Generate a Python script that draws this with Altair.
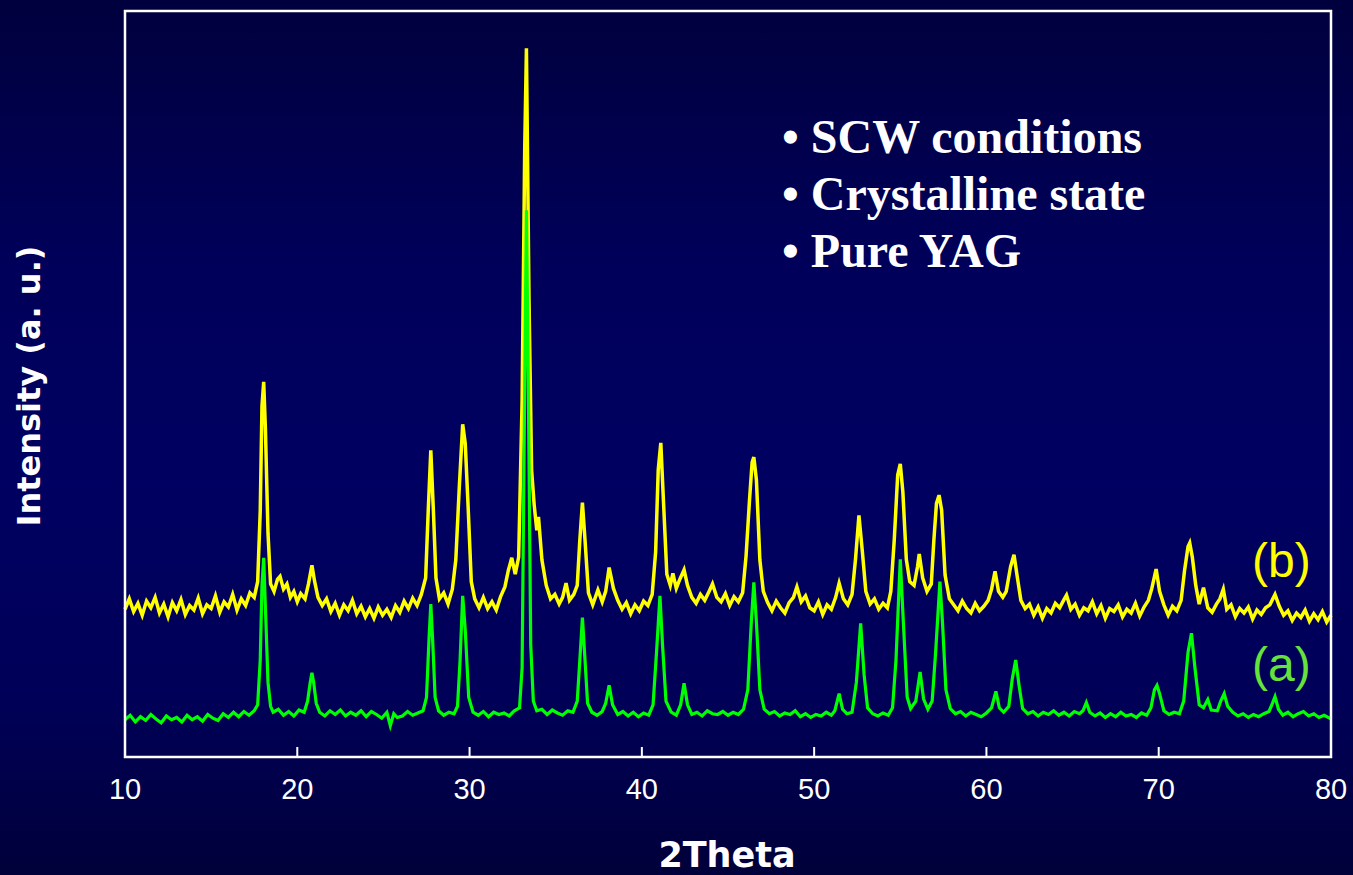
import altair as alt
import pandas as pd

# ---------------- data ----------------
# (2theta, intensity a.u.) pairs for pattern (a) - green
a_points = [
    (10.0, 50), (10.3, 56), (10.6, 47), (10.9, 54), (11.2, 49), (11.5, 57), (11.8, 51), (12.1, 46),
    (12.4, 55), (12.7, 50), (13.0, 53), (13.3, 47), (13.6, 56), (13.9, 50), (14.2, 54), (14.5, 48),
    (14.8, 57), (15.1, 52), (15.4, 49), (15.7, 58), (16.0, 53), (16.3, 60), (16.6, 54), (16.9, 61),
    (17.2, 56), (17.5, 62), (17.7, 70), (17.85, 130), (17.95, 230), (18.05, 267), (18.15, 200),
    (18.3, 100), (18.45, 68), (18.6, 60), (18.9, 64), (19.2, 56), (19.5, 61), (19.8, 55), (20.1, 63),
    (20.4, 60), (20.6, 75), (20.75, 100), (20.85, 113), (20.95, 100), (21.1, 72), (21.3, 60),
    (21.6, 55), (21.9, 62), (22.2, 57), (22.5, 63), (22.8, 55), (23.1, 60), (23.4, 56), (23.7, 62),
    (24.0, 54), (24.3, 61), (24.6, 57), (24.9, 52), (25.2, 60), (25.4, 42), (25.6, 58), (25.8, 53),
    (26.1, 55), (26.4, 61), (26.7, 56), (27.0, 59), (27.3, 62), (27.5, 80), (27.65, 160),
    (27.75, 205), (27.85, 160), (28.0, 80), (28.2, 62), (28.5, 56), (28.8, 60), (29.1, 58),
    (29.3, 68), (29.45, 130), (29.6, 216), (29.75, 170), (29.95, 80), (30.2, 60), (30.5, 56),
    (30.8, 61), (31.1, 54), (31.4, 60), (31.7, 57), (32.0, 59), (32.3, 55), (32.6, 62), (32.9, 66),
    (33.05, 120), (33.2, 500), (33.3, 733), (33.4, 520), (33.55, 150), (33.7, 75), (33.9, 62),
    (34.2, 64), (34.5, 57), (34.8, 63), (35.1, 59), (35.4, 56), (35.7, 62), (36.0, 60), (36.25, 75),
    (36.4, 130), (36.55, 187), (36.7, 130), (36.85, 72), (37.1, 60), (37.4, 56), (37.7, 61),
    (37.9, 72), (38.1, 96), (38.3, 70), (38.6, 57), (38.9, 61), (39.2, 55), (39.5, 60), (39.8, 54),
    (40.1, 59), (40.4, 56), (40.65, 70), (40.85, 140), (41.05, 216), (41.2, 150), (41.4, 75),
    (41.7, 60), (42.0, 56), (42.25, 70), (42.45, 99), (42.65, 70), (42.9, 57), (43.2, 60),
    (43.5, 55), (43.8, 62), (44.1, 58), (44.4, 57), (44.7, 61), (45.0, 56), (45.3, 60), (45.6, 57),
    (45.9, 64), (46.15, 90), (46.35, 180), (46.5, 234), (46.65, 180), (46.85, 90), (47.1, 64),
    (47.4, 58), (47.7, 61), (48.0, 55), (48.3, 59), (48.6, 57), (48.9, 62), (49.2, 54), (49.5, 58),
    (49.8, 53), (50.1, 57), (50.4, 55), (50.7, 60), (51.0, 56), (51.2, 62), (51.45, 85),
    (51.65, 64), (51.9, 58), (52.2, 60), (52.45, 100), (52.7, 179), (52.9, 110), (53.1, 66),
    (53.4, 58), (53.7, 55), (54.0, 59), (54.3, 56), (54.55, 66), (54.75, 130), (55.0, 265),
    (55.2, 170), (55.4, 80), (55.6, 65), (55.9, 75), (56.15, 114), (56.35, 78), (56.6, 64),
    (56.85, 75), (57.05, 140), (57.3, 235), (57.45, 180), (57.65, 90), (57.9, 65), (58.2, 58),
    (58.5, 61), (58.8, 55), (59.1, 60), (59.4, 57), (59.7, 54), (60.0, 59), (60.3, 66),
    (60.55, 88), (60.75, 66), (61.0, 60), (61.3, 68), (61.5, 105), (61.7, 130), (61.9, 95),
    (62.1, 65), (62.4, 58), (62.7, 61), (63.0, 55), (63.3, 60), (63.6, 57), (63.9, 62), (64.2, 56),
    (64.5, 60), (64.8, 55), (65.1, 61), (65.4, 58), (65.6, 62), (65.8, 73), (66.0, 60), (66.3, 55),
    (66.6, 59), (66.9, 53), (67.2, 58), (67.5, 54), (67.8, 60), (68.1, 55), (68.4, 57), (68.7, 53),
    (69.0, 59), (69.3, 56), (69.55, 66), (69.75, 90), (69.9, 96), (70.05, 85), (70.3, 62),
    (70.6, 57), (70.9, 60), (71.2, 58), (71.45, 75), (71.7, 140), (71.9, 166), (72.1, 120),
    (72.35, 70), (72.6, 66), (72.85, 77), (73.05, 63), (73.4, 62), (73.6, 75), (73.8, 85),
    (74.0, 68), (74.3, 60), (74.6, 55), (74.9, 58), (75.2, 53), (75.5, 57), (75.8, 54), (76.1, 58),
    (76.4, 61), (76.6, 72), (76.75, 81), (76.95, 64), (77.2, 56), (77.5, 60), (77.8, 54),
    (78.1, 58), (78.4, 61), (78.7, 55), (79.0, 58), (79.3, 53), (79.6, 56), (80.0, 51),
]

# (2theta, intensity a.u.) pairs for pattern (b) - yellow
b_points = [
    (10.0, 198), (10.25, 212), (10.5, 195), (10.75, 206), (11.0, 190), (11.25, 209), (11.5, 200),
    (11.75, 214), (12.0, 193), (12.25, 205), (12.5, 188), (12.75, 207), (13.0, 196), (13.25, 211),
    (13.5, 191), (13.75, 203), (14.0, 197), (14.25, 213), (14.5, 192), (14.75, 204), (15.0, 199),
    (15.25, 216), (15.5, 194), (15.75, 208), (16.0, 201), (16.25, 218), (16.5, 197), (16.75, 212),
    (17.0, 203), (17.25, 220), (17.5, 214), (17.7, 235), (17.85, 330), (17.95, 470), (18.05, 503),
    (18.15, 440), (18.3, 300), (18.45, 232), (18.65, 222), (18.85, 238), (19.0, 242), (19.2, 225),
    (19.4, 232), (19.6, 214), (19.8, 222), (20.0, 208), (20.2, 219), (20.45, 212), (20.65, 232),
    (20.85, 257), (21.0, 236), (21.2, 214), (21.45, 203), (21.7, 212), (21.95, 195), (22.2, 206),
    (22.45, 190), (22.7, 204), (22.95, 196), (23.2, 210), (23.45, 192), (23.7, 202), (23.95, 188),
    (24.2, 199), (24.45, 186), (24.7, 201), (24.95, 190), (25.2, 198), (25.45, 187), (25.7, 203),
    (25.95, 194), (26.2, 209), (26.45, 199), (26.7, 213), (26.95, 203), (27.2, 218), (27.45, 240),
    (27.6, 330), (27.75, 411), (27.9, 330), (28.05, 240), (28.25, 212), (28.5, 220), (28.75, 205),
    (29.0, 225), (29.2, 264), (29.4, 360), (29.6, 446), (29.75, 420), (29.9, 344), (30.1, 235),
    (30.3, 212), (30.55, 200), (30.8, 214), (31.05, 199), (31.3, 208), (31.55, 197), (31.8, 215),
    (32.05, 228), (32.25, 250), (32.45, 267), (32.65, 245), (32.85, 268), (33.05, 478),
    (33.2, 814), (33.3, 950), (33.45, 613), (33.6, 385), (33.75, 338), (33.9, 304), (34.0, 322),
    (34.2, 264), (34.45, 230), (34.7, 212), (34.95, 218), (35.2, 205), (35.4, 214), (35.6, 233),
    (35.8, 210), (36.05, 218), (36.25, 230), (36.4, 291), (36.55, 341), (36.7, 291), (36.9, 220),
    (37.15, 204), (37.45, 224), (37.7, 208), (37.9, 222), (38.1, 254), (38.35, 226), (38.6, 210),
    (38.85, 198), (39.1, 207), (39.35, 192), (39.6, 204), (39.85, 196), (40.1, 209), (40.35, 203),
    (40.6, 218), (40.8, 275), (40.95, 385), (41.1, 421), (41.25, 345), (41.45, 245), (41.65, 230),
    (41.8, 246), (42.0, 226), (42.2, 238), (42.45, 251), (42.65, 230), (42.9, 214), (43.15, 206),
    (43.4, 218), (43.65, 210), (43.9, 222), (44.1, 232), (44.35, 214), (44.6, 208), (44.85, 219),
    (45.1, 203), (45.35, 215), (45.6, 208), (45.85, 220), (46.05, 270), (46.25, 345), (46.4, 395),
    (46.5, 402), (46.65, 371), (46.85, 264), (47.05, 222), (47.3, 207), (47.55, 196), (47.8, 209),
    (48.05, 200), (48.3, 193), (48.55, 207), (48.8, 214), (49.0, 228), (49.25, 208), (49.5, 216),
    (49.75, 200), (50.0, 196), (50.25, 208), (50.5, 191), (50.75, 204), (51.0, 198), (51.25, 214),
    (51.45, 233), (51.7, 212), (51.95, 204), (52.2, 218), (52.4, 265), (52.6, 324), (52.8, 275),
    (53.0, 222), (53.25, 205), (53.5, 212), (53.75, 198), (54.0, 206), (54.25, 200), (54.45, 222),
    (54.65, 291), (54.85, 378), (55.0, 393), (55.15, 355), (55.35, 265), (55.55, 235), (55.8, 230),
    (56.0, 255), (56.1, 272), (56.3, 240), (56.55, 222), (56.8, 232), (56.95, 291), (57.1, 340),
    (57.25, 351), (57.4, 331), (57.6, 244), (57.85, 212), (58.1, 204), (58.35, 196), (58.6, 209),
    (58.85, 199), (59.1, 193), (59.35, 206), (59.6, 196), (59.85, 202), (60.1, 210), (60.3, 225),
    (60.5, 249), (60.7, 222), (60.95, 214), (61.15, 222), (61.4, 255), (61.6, 271), (61.8, 240),
    (62.0, 210), (62.25, 199), (62.5, 205), (62.75, 190), (63.0, 201), (63.25, 186), (63.5, 199),
    (63.75, 193), (64.0, 206), (64.25, 200), (64.5, 211), (64.65, 217), (64.9, 198), (65.15, 205),
    (65.4, 190), (65.65, 200), (65.9, 196), (66.15, 208), (66.4, 192), (66.65, 203), (66.9, 186),
    (67.15, 199), (67.4, 195), (67.65, 204), (67.9, 188), (68.15, 198), (68.4, 193), (68.65, 206),
    (68.9, 189), (69.15, 201), (69.4, 210), (69.6, 226), (69.85, 252), (70.05, 222), (70.3, 204),
    (70.55, 190), (70.8, 202), (71.05, 196), (71.3, 210), (71.5, 250), (71.7, 282), (71.8, 287),
    (71.95, 268), (72.15, 230), (72.35, 205), (72.6, 227), (72.85, 200), (73.1, 194), (73.35, 205),
    (73.55, 212), (73.75, 225), (73.95, 198), (74.2, 204), (74.45, 188), (74.7, 199), (74.95, 193),
    (75.2, 201), (75.45, 185), (75.7, 197), (75.95, 191), (76.2, 200), (76.45, 204), (76.75, 218),
    (77.0, 202), (77.25, 190), (77.5, 196), (77.75, 183), (78.0, 193), (78.25, 187), (78.5, 197),
    (78.75, 182), (79.0, 192), (79.25, 184), (79.5, 195), (79.75, 181), (80.0, 190),
]

tick_values = [10, 20, 30, 40, 50, 60, 70, 80]
inner_ticks = [20, 30, 40, 50, 60, 70]
notes = ["\u2022 SCW conditions", "\u2022 Crystalline state", "\u2022 Pure YAG"]
x_title = "2Theta"
y_title = "Intensity (a. u.)"
series_labels = ["(b)", "(a)"]

# ---------------- layout ----------------
W, H = 1206, 746
PAD_L, PAD_T, PAD_R, PAD_B = 125, 11, 22, 118

xs = alt.Scale(domain=[10, 80], nice=False, zero=False)
ys = alt.Scale(domain=[0, 1000], nice=False, zero=False)

one = pd.DataFrame({"k": [0]})

bg_gradient = alt.LinearGradient(
    gradient="linear",
    stops=[
        alt.GradientStop(color="#00003e", offset=0),
        alt.GradientStop(color="#00005a", offset=0.3),
        alt.GradientStop(color="#000062", offset=0.55),
        alt.GradientStop(color="#000058", offset=0.8),
        alt.GradientStop(color="#00003a", offset=1),
    ],
    x1=0, x2=0, y1=0, y2=1,
)

bg = alt.Chart(one).mark_rect(color=bg_gradient).encode(
    x=alt.value(-PAD_L), x2=alt.value(W + PAD_R),
    y=alt.value(-PAD_T), y2=alt.value(H + PAD_B),
)

df_a = pd.DataFrame(a_points, columns=["theta", "intensity"])
df_b = pd.DataFrame(b_points, columns=["theta", "intensity"])

line_b = alt.Chart(df_b).mark_line(color="#ffff00", strokeWidth=3.5, strokeJoin="miter").encode(
    x=alt.X("theta:Q", scale=xs, axis=None),
    y=alt.Y("intensity:Q", scale=ys, axis=None),
)
line_a = alt.Chart(df_a).mark_line(color="#00ff00", strokeWidth=3.2, strokeJoin="miter").encode(
    x=alt.X("theta:Q", scale=xs, axis=None),
    y=alt.Y("intensity:Q", scale=ys, axis=None),
)

frame = alt.Chart(one).mark_rect(fillOpacity=0, stroke="white", strokeWidth=2.5).encode(
    x=alt.value(0), x2=alt.value(W), y=alt.value(0), y2=alt.value(H),
)

ticks = alt.Chart(pd.DataFrame({"t": inner_ticks})).mark_rule(color="white", strokeWidth=2).encode(
    x=alt.X("t:Q", scale=xs, axis=None),
    y=alt.value(H), y2=alt.value(H - 10),
)

tick_labels = alt.Chart(
    pd.DataFrame({"t": tick_values, "lab": [str(v) for v in tick_values]})
).mark_text(
    font="Liberation Sans", fontSize=29, color="white", baseline="alphabetic", align="center"
).encode(
    x=alt.X("t:Q", scale=xs, axis=None), y=alt.value(788), text="lab:N",
)

xt = alt.Chart(one).mark_text(
    text=x_title, font="DejaVu Sans", fontWeight="bold", fontSize=35, color="white",
    align="center", baseline="alphabetic",
).encode(x=alt.value(602), y=alt.value(856))

yt = alt.Chart(one).mark_text(
    text=y_title, font="DejaVu Sans", fontWeight="bold", fontSize=32, color="white",
    align="center", baseline="alphabetic", angle=270,
).encode(x=alt.value(40 - PAD_L), y=alt.value(375))

note_layers = [
    alt.Chart(one).mark_text(
        text=txt, font="Liberation Serif", fontWeight="bold", fontSize=48, color="white",
        align="left", baseline="alphabetic",
    ).encode(x=alt.value(657), y=alt.value(142 + 57 * i))
    for i, txt in enumerate(notes)
]

lab_b = alt.Chart(one).mark_text(
    text=series_labels[0], font="Liberation Sans", fontSize=48, color="#ffff00",
    align="left", baseline="alphabetic",
).encode(x=alt.value(1127), y=alt.value(566))
lab_a = alt.Chart(one).mark_text(
    text=series_labels[1], font="Liberation Sans", fontSize=48, color="#66e23c",
    align="left", baseline="alphabetic",
).encode(x=alt.value(1127), y=alt.value(670))

chart = alt.layer(
    bg, line_b, line_a, frame, ticks, tick_labels, xt, yt, *note_layers, lab_b, lab_a
).properties(
    width=W, height=H,
    autosize=alt.AutoSizeParams(type="none"),
    padding={"left": PAD_L, "top": PAD_T, "right": PAD_R, "bottom": PAD_B},
).configure_view(stroke=None).configure(background="#000048")

chart.save("out.html", embed_options={"renderer": "svg", "actions": False})
